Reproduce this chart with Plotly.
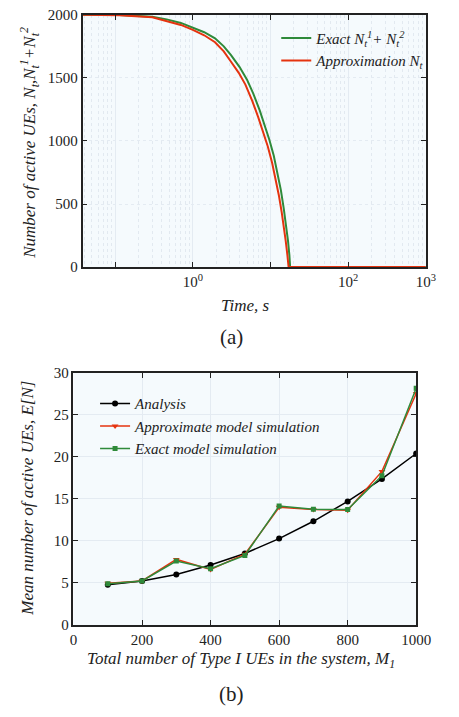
import plotly.graph_objects as go
import math

# ---- Panel (a) data ----
t_exact = [0.038, 0.113, 0.3, 0.46, 0.7, 1.0, 1.4, 1.93, 2.5, 3.10, 4.0, 4.98, 6.0, 7.28, 8.5, 9.68, 11.0, 12.3, 13.6, 14.8, 15.9, 16.8, 17.5, 17.9, 100, 1000]
n_exact = [2000, 1998, 1985, 1964, 1936, 1899, 1862, 1814, 1750, 1680, 1586, 1486, 1375, 1240, 1118, 1008, 884, 749, 610, 465, 330, 207, 95, 0, 0, 0]
t_approx = [0.038, 0.113, 0.3, 0.46, 0.7, 1.0, 1.4, 1.93, 2.5, 3.10, 3.9, 4.75, 5.8, 6.94, 8.1, 9.23, 10.5, 11.7, 12.8, 13.9, 14.9, 15.7, 16.5, 17.1, 100, 1000]
n_approx = [2000, 1997, 1980, 1951, 1920, 1881, 1838, 1783, 1710, 1628, 1540, 1447, 1320, 1189, 1070, 956, 825, 698, 570, 439, 318, 207, 95, 0, 0, 0]

# ---- Panel (b) data ----
m1 = [100, 200, 300, 400, 500, 600, 700, 800, 900, 1000]
analysis = [4.77, 5.24, 6.01, 7.14, 8.5, 10.28, 12.34, 14.71, 17.38, 20.41]
approx_sim = [4.97, 5.24, 7.8, 6.6, 8.42, 14.0, 13.74, 13.66, 18.28, 27.55]
exact_sim = [4.9, 5.24, 7.6, 6.7, 8.27, 14.16, 13.78, 13.74, 17.77, 28.17]

xa_ticks = [0.1, 1, 10, 100, 1000]
xa_labels = ["", "10<sup>0</sup>", "", "10<sup>2</sup>", "10<sup>3</sup>"]
ya_ticks = [0, 500, 1000, 1500, 2000]
xb_ticks = [0, 200, 400, 600, 800, 1000]
yb_ticks = [0, 5, 10, 15, 20, 25, 30]

GREEN = "#2f8a3a"
RED = "#e5330f"
FONT = "Liberation Serif, Times New Roman, DejaVu Serif, serif"
W, H = 459, 717

fig = go.Figure()

fig.add_trace(go.Scatter(x=t_exact, y=n_exact, mode="lines", line=dict(color=GREEN, width=2),
                         name="<i>Exact N<sub>t</sub><sup>1</sup>+ N<sub>t</sub><sup>2</sup></i>",
                         xaxis="x", yaxis="y", legend="legend"))
fig.add_trace(go.Scatter(x=t_approx, y=n_approx, mode="lines", line=dict(color=RED, width=2),
                         name="<i>Approximation N<sub>t</sub></i>",
                         xaxis="x", yaxis="y", legend="legend"))

fig.add_trace(go.Scatter(x=m1, y=analysis, mode="lines+markers", line=dict(color="black", width=1.5),
                         marker=dict(symbol="circle", size=6, color="black"),
                         name="<i>Analysis</i>", xaxis="x2", yaxis="y2", legend="legend2"))
fig.add_trace(go.Scatter(x=m1, y=approx_sim, mode="lines+markers", line=dict(color=RED, width=1.5),
                         marker=dict(symbol="triangle-down", size=6, color=RED),
                         name="<i>Approximate model simulation</i>", xaxis="x2", yaxis="y2", legend="legend2"))
fig.add_trace(go.Scatter(x=m1, y=exact_sim, mode="lines+markers", line=dict(color=GREEN, width=1.5),
                         marker=dict(symbol="square", size=5, color=GREEN),
                         name="<i>Exact model simulation</i>", xaxis="x2", yaxis="y2", legend="legend2"))

axis_common = dict(showline=True, linecolor="#222", linewidth=1.5, mirror="ticks",
                   ticks="inside", ticklen=5, tickcolor="#222", zeroline=False,
                   tickfont=dict(family=FONT, size=15, color="#222"))

fig.update_layout(
    width=W, height=H, margin=dict(l=0, r=0, t=0, b=0),
    paper_bgcolor="white", plot_bgcolor="#f5fafd",
    font=dict(family=FONT, color="#222"),
    xaxis=dict(domain=[82 / W, 440 / W], anchor="y", type="log",
               range=[math.log10(0.038), 3], tickvals=xa_ticks, ticktext=xa_labels,
               showgrid=True, gridcolor="#e4ebf2", gridwidth=1,
               minor=dict(dtick="D1", showgrid=True, gridcolor="#e2e9f0", griddash="dot", ticks=""),
               **axis_common),
    yaxis=dict(domain=[1 - 265 / H, 1 - 7 / H], anchor="x", range=[0, 2000],
               tickvals=ya_ticks, showgrid=True, gridcolor="#e4ebf2", griddash="dot", gridwidth=1,
               **axis_common),
    xaxis2=dict(domain=[72.5 / W, 430 / W], anchor="y2", range=[0, 1000],
                tickvals=xb_ticks, showgrid=True, gridcolor="#e4ebf2", **axis_common),
    yaxis2=dict(domain=[1 - 631 / H, 1 - 373.3 / H], anchor="x2", range=[0, 30],
                tickvals=yb_ticks, showgrid=True, gridcolor="#e4ebf2", **axis_common),
    legend=dict(x=284 / W, y=1 - 14 / H, xanchor="left", yanchor="top",
                bgcolor="rgba(0,0,0,0)", font=dict(family=FONT, size=15, color="#222"),
                tracegroupgap=0, itemwidth=30),
    legend2=dict(x=95 / W, y=1 - 388 / H, xanchor="left", yanchor="top",
                 bgcolor="rgba(0,0,0,0)", font=dict(family=FONT, size=15, color="#222"),
                 tracegroupgap=0, itemwidth=30),
    showlegend=True,
)

def ann(text, x, y, size, angle=0):
    fig.add_annotation(text=text, x=x / W, y=1 - y / H, xref="paper", yref="paper",
                       showarrow=False, textangle=angle, xanchor="center", yanchor="middle",
                       font=dict(family=FONT, size=size, color="#222"))

ann("<i>Number of active UEs, N<sub>t</sub>,N<sub>t</sub><sup>1</sup>+N<sub>t</sub><sup>2</sup></i>", 27, 138, 17, -90)
ann("<i>Time, s</i>", 252, 304, 17)
ann("(a)", 237, 337, 21)
ann("<i>Mean number of active UEs, E[N]</i>", 25, 501, 17, -90)
ann("<i>Total number of Type I UEs in the system, M<sub>1</sub></i>", 247, 667, 17)
ann("(b)", 237, 702, 21)

fig.write_html("out.html")
